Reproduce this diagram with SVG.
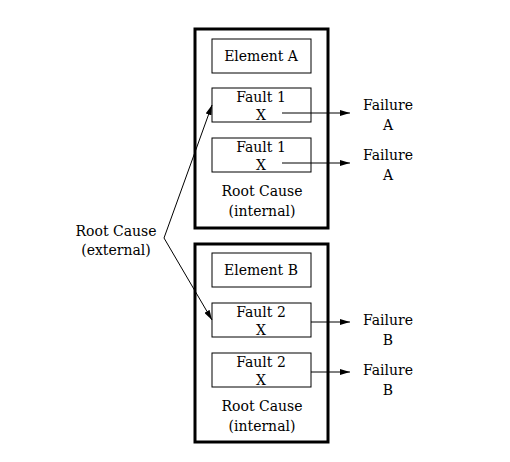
<svg xmlns="http://www.w3.org/2000/svg" width="510" height="462" viewBox="0 0 510 462">
<style>
text{font-family:"DejaVu Serif","Liberation Serif",serif;font-size:14px;fill:#000;text-anchor:middle}
.outer{fill:#fff;stroke:#000;stroke-width:3}
.inner{fill:#fff;stroke:#000;stroke-width:1}
.c{stroke:#000;stroke-width:1;fill:none;marker-end:url(#ah)}
</style>
<defs><marker id="ah" viewBox="0 0 10 6" refX="10" refY="3" markerWidth="10" markerHeight="6" markerUnits="userSpaceOnUse" orient="auto"><path d="M0,0L10,3L0,6z" fill="#000"/></marker></defs>
<rect width="510" height="462" fill="#fff"/>
<g id="boxA"><rect class="outer" x="195" y="29" width="133" height="199"/>
<text x="262" y="196">Root Cause</text><text x="262" y="216">(internal)</text></g>
<g id="elemA"><rect class="inner" x="212" y="39" width="99" height="34"/><text x="261" y="61">Element A</text></g>
<g id="fault1a"><rect class="inner" x="212" y="88" width="99" height="34"/><text x="261" y="102">Fault 1</text><text x="261" y="120">X</text></g>
<g id="fault1b"><rect class="inner" x="212" y="138" width="99" height="34"/><text x="261" y="152">Fault 1</text><text x="261" y="170">X</text></g>
<g id="boxB"><rect class="outer" x="195" y="244" width="133" height="198"/>
<text x="262" y="411">Root Cause</text><text x="262" y="431">(internal)</text></g>
<g id="elemB"><rect class="inner" x="212" y="253" width="99" height="34"/><text x="261" y="275">Element B</text></g>
<g id="fault2a"><rect class="inner" x="212" y="303" width="99" height="34"/><text x="261" y="317">Fault 2</text><text x="261" y="335">X</text></g>
<g id="fault2b"><rect class="inner" x="212" y="353" width="99" height="34"/><text x="261" y="367">Fault 2</text><text x="261" y="385">X</text></g>
<g id="failA1"><text x="388" y="110">Failure</text><text x="388" y="130">A</text></g>
<g id="failA2"><text x="388" y="160">Failure</text><text x="388" y="180">A</text></g>
<g id="failB1"><text x="388" y="325">Failure</text><text x="388" y="345">B</text></g>
<g id="failB2"><text x="388" y="375">Failure</text><text x="388" y="395">B</text></g>
<g id="external"><text x="116" y="236">Root  Cause</text><text x="116" y="255">(external)</text></g>
<g id="connectors">
<path class="c" d="M282,113H350"/>
<path class="c" d="M282,163H350"/>
<path class="c" d="M311,322H350"/>
<path class="c" d="M311,372H350"/>
<path class="c" d="M164,238L212,105"/>
<path class="c" d="M164,238L212,320"/>
</g>
</svg>
